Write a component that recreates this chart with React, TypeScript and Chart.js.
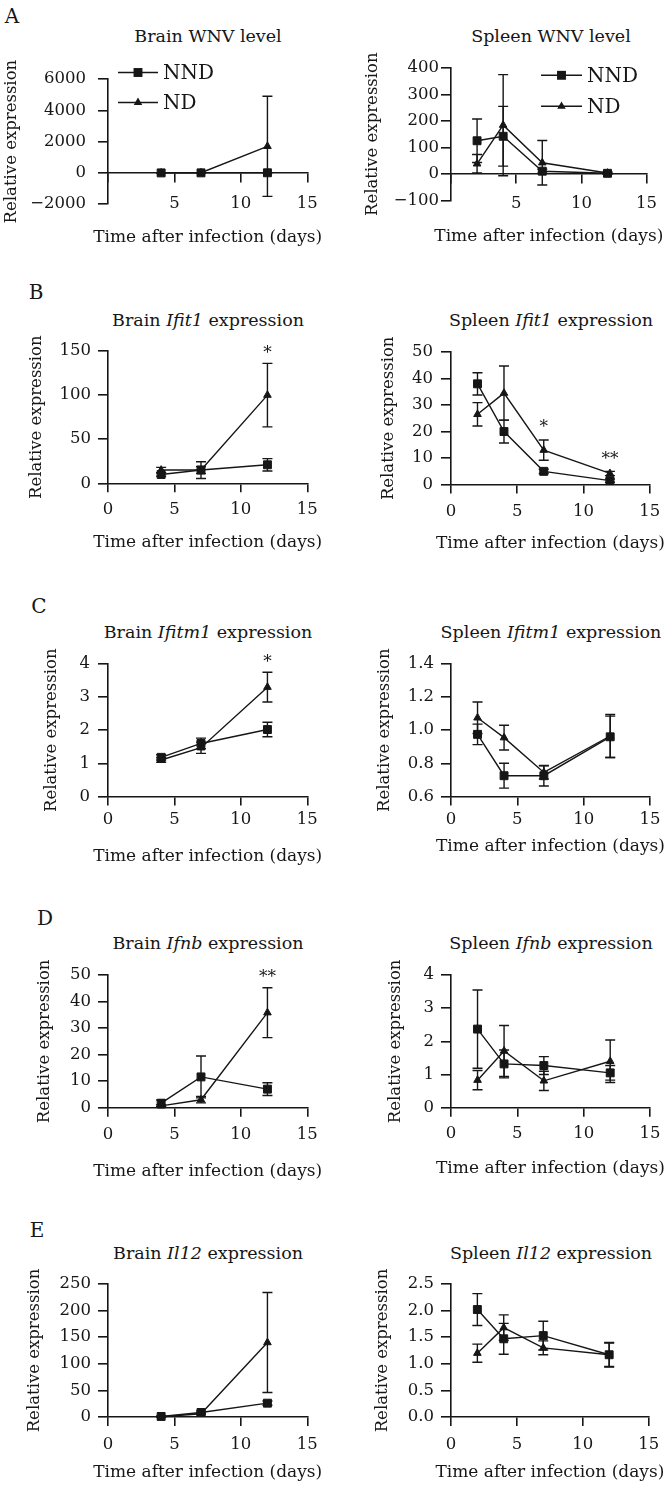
import React, { useEffect, useRef } from 'react';
import { Chart, registerables } from 'chart.js';

Chart.register(...registerables);

const FONT = "'DejaVu Serif', 'Liberation Serif', serif";
const INK = '#161616';

// ---------- categories / labels ----------
const brainDays = [4, 7, 12];
const spleenDays = [2, 4, 7, 12];
const xTickValues = [0, 5, 10, 15];
const seriesNames = ['NND', 'ND'];
const xAxisTitle = 'Time after infection (days)';
const yAxisTitle = 'Relative expression';

// ---------- A: WNV level ----------
const brainWnvNND = [0, 3, 8];
const brainWnvNNDErr = [5, 5, 10];
const brainWnvND = [0, 10, 1700];
const brainWnvNDErr = [5, 10, 3200];
const brainWnvYTicks = [-2000, 0, 2000, 4000, 6000];

const spleenWnvNND = [125, 142, 10, 2];
const spleenWnvNNDErr = [82, 113, 8, 3];
const spleenWnvND = [38, 184, 42, 3];
const spleenWnvNDErr = [35, 191, 84, 4];
const spleenWnvYTicks = [-100, 0, 100, 200, 300, 400];

// ---------- B: Ifit1 ----------
const brainIfit1NND = [10, 15, 21];
const brainIfit1NNDErr = [2, 9.5, 7];
const brainIfit1ND = [15, 15, 100];
const brainIfit1NDErr = [3, 4, 36];
const brainIfit1YTicks = [0, 50, 100, 150];
const brainIfit1Stars = [{ x: 12, y: 153.4, text: '*' }];

const spleenIfit1NND = [38, 20, 5, 1.5];
const spleenIfit1NNDErr = [4.2, 4.3, 0.8, 0.6];
const spleenIfit1ND = [26.5, 34.5, 13, 4.2];
const spleenIfit1NDErr = [4.4, 10.2, 3.8, 0.8];
const spleenIfit1YTicks = [0, 10, 20, 30, 40, 50];
const spleenIfit1Stars = [
  { x: 7, y: 23.6, text: '*' },
  { x: 12, y: 11.8, text: '**' },
];

// ---------- C: Ifitm1 ----------
const brainIfitm1NND = [1.18, 1.6, 2.02];
const brainIfitm1NNDErr = [0.08, 0.16, 0.22];
const brainIfitm1ND = [1.1, 1.47, 3.3];
const brainIfitm1NDErr = [0.07, 0.17, 0.45];
const brainIfitm1YTicks = [0, 1, 2, 3, 4];
const brainIfitm1Stars = [{ x: 12, y: 4.22, text: '*' }];

const spleenIfitm1NND = [0.975, 0.725, 0.725, 0.96];
const spleenIfitm1NNDErr = [0.062, 0.075, 0.062, 0.125];
const spleenIfitm1ND = [1.075, 0.955, 0.745, 0.965];
const spleenIfitm1NDErr = [0.095, 0.075, 0.04, 0.13];
const spleenIfitm1YTicks = [0.6, 0.8, 1.0, 1.2, 1.4];

// ---------- D: Ifnb ----------
const brainIfnbNND = [1.7, 11.6, 7.0];
const brainIfnbNNDErr = [1.2, 7.9, 2.4];
const brainIfnbND = [0.7, 3.0, 35.8];
const brainIfnbNDErr = [0.4, 1.2, 9.4];
const brainIfnbYTicks = [0, 10, 20, 30, 40, 50];
const brainIfnbStars = [{ x: 12, y: 51.2, text: '**' }];

const spleenIfnbNND = [2.37, 1.32, 1.27, 1.05];
const spleenIfnbNNDErr = [1.18, 0.42, 0.27, 0.22];
const spleenIfnbND = [0.83, 1.71, 0.81, 1.4];
const spleenIfnbNDErr = [0.29, 0.77, 0.29, 0.64];
const spleenIfnbYTicks = [0, 1, 2, 3, 4];

// ---------- E: Il12 ----------
const brainIl12NND = [1, 8.5, 26];
const brainIl12NNDErr = [1, 3, 4];
const brainIl12ND = [0.5, 6, 140];
const brainIl12NDErr = [0.5, 2, 94];
const brainIl12YTicks = [0, 50, 100, 150, 200, 250];

const spleenIl12NND = [2.02, 1.47, 1.53, 1.17];
const spleenIl12NNDErr = [0.3, 0.29, 0.27, 0.23];
const spleenIl12ND = [1.2, 1.68, 1.3, 1.17];
const spleenIl12NDErr = [0.17, 0.24, 0.13, 0.22];
const spleenIl12YTicks = [0, 0.5, 1.0, 1.5, 2.0, 2.5];

// ---------- titles ----------
const panelLetters = [
  { text: 'A', x: 12, y: 15.5 },
  { text: 'B', x: 36, y: 292 },
  { text: 'C', x: 39, y: 606 },
  { text: 'D', x: 45, y: 917.5 },
  { text: 'E', x: 37, y: 1230 },
];

type Star = { x: number; y: number; text: string };
type Geom = {
  top: number; bottom: number; xTitleY: number; yTitleX: number;
  tickPadY: number; tickPadX: number; titleX: number; titleY: number;
};
type Panel = {
  id: string; col: 0 | 1; days: number[];
  nnd: number[]; nndErr: number[]; nd: number[]; ndErr: number[];
  yTicks: number[]; decimals: number; title: [string, string, string];
  stars: Star[]; zeroAxis?: boolean;
  legend?: { dx: number; dy: number[]; len: number };
  geom: Geom;
};

const panels: Panel[] = [
  {
    id: 'A1', col: 0, days: brainDays, nnd: brainWnvNND, nndErr: brainWnvNNDErr, nd: brainWnvND, ndErr: brainWnvNDErr,
    yTicks: brainWnvYTicks, decimals: 0, title: ['Brain WNV level', '', ''], stars: [], zeroAxis: true,
    legend: { dx: 10, dy: [-6.5, 23.5], len: 40 },
    geom: { top: 78.5, bottom: 203.7, xTitleY: 237, yTitleX: 12, tickPadY: 12, tickPadX: 11.7, titleX: 208, titleY: 37 },
  },
  {
    id: 'A2', col: 1, days: spleenDays, nnd: spleenWnvNND, nndErr: spleenWnvNNDErr, nd: spleenWnvND, ndErr: spleenWnvNDErr,
    yTicks: spleenWnvYTicks, decimals: 0, title: ['Spleen WNV level', '', ''], stars: [], zeroAxis: true,
    legend: { dx: 90, dy: [7.3, 38.3], len: 41 },
    geom: { top: 67.7, bottom: 200, xTitleY: 236.7, yTitleX: 373, tickPadY: 2, tickPadX: 10.9, titleX: 551, titleY: 37 },
  },
  {
    id: 'B1', col: 0, days: brainDays, nnd: brainIfit1NND, nndErr: brainIfit1NNDErr, nd: brainIfit1ND, ndErr: brainIfit1NDErr,
    yTicks: brainIfit1YTicks, decimals: 0, title: ['Brain ', 'Ifit1', ' expression'], stars: brainIfit1Stars,
    geom: { top: 351, bottom: 483.3, xTitleY: 543, yTitleX: 37, tickPadY: 7, tickPadX: 7.8, titleX: 208, titleY: 321 },
  },
  {
    id: 'B2', col: 1, days: spleenDays, nnd: spleenIfit1NND, nndErr: spleenIfit1NNDErr, nd: spleenIfit1ND, ndErr: spleenIfit1NDErr,
    yTicks: spleenIfit1YTicks, decimals: 0, title: ['Spleen ', 'Ifit1', ' expression'], stars: spleenIfit1Stars,
    geom: { top: 351.7, bottom: 484.3, xTitleY: 543.3, yTitleX: 389, tickPadY: 8, tickPadX: 7.8, titleX: 551, titleY: 321 },
  },
  {
    id: 'C1', col: 0, days: brainDays, nnd: brainIfitm1NND, nndErr: brainIfitm1NNDErr, nd: brainIfitm1ND, ndErr: brainIfitm1NDErr,
    yTicks: brainIfitm1YTicks, decimals: 0, title: ['Brain ', 'Ifitm1', ' expression'], stars: brainIfitm1Stars,
    geom: { top: 664.3, bottom: 796.7, xTitleY: 856.7, yTitleX: 52, tickPadY: 8, tickPadX: 4.4, titleX: 208, titleY: 633 },
  },
  {
    id: 'C2', col: 1, days: spleenDays, nnd: spleenIfitm1NND, nndErr: spleenIfitm1NNDErr, nd: spleenIfitm1ND, ndErr: spleenIfitm1NDErr,
    yTicks: spleenIfitm1YTicks, decimals: 1, title: ['Spleen ', 'Ifitm1', ' expression'], stars: [],
    geom: { top: 664.3, bottom: 796.7, xTitleY: 846.7, yTitleX: 385, tickPadY: 7, tickPadX: 4.4, titleX: 551, titleY: 633 },
  },
  {
    id: 'D1', col: 0, days: brainDays, nnd: brainIfnbNND, nndErr: brainIfnbNNDErr, nd: brainIfnbND, ndErr: brainIfnbNDErr,
    yTicks: brainIfnbYTicks, decimals: 0, title: ['Brain ', 'Ifnb', ' expression'], stars: brainIfnbStars,
    geom: { top: 975, bottom: 1107.7, xTitleY: 1171.7, yTitleX: 45, tickPadY: 7, tickPadX: 8.4, titleX: 208, titleY: 944 },
  },
  {
    id: 'D2', col: 1, days: spleenDays, nnd: spleenIfnbNND, nndErr: spleenIfnbNNDErr, nd: spleenIfnbND, ndErr: spleenIfnbNDErr,
    yTicks: spleenIfnbYTicks, decimals: 0, title: ['Spleen ', 'Ifnb', ' expression'], stars: [],
    geom: { top: 975, bottom: 1107.7, xTitleY: 1168.3, yTitleX: 396, tickPadY: 7, tickPadX: 6.7, titleX: 551, titleY: 944 },
  },
  {
    id: 'E1', col: 0, days: brainDays, nnd: brainIl12NND, nndErr: brainIl12NNDErr, nd: brainIl12ND, ndErr: brainIl12NDErr,
    yTicks: brainIl12YTicks, decimals: 0, title: ['Brain ', 'Il12', ' expression'], stars: [],
    geom: { top: 1284.3, bottom: 1417.3, xTitleY: 1473.3, yTitleX: 35, tickPadY: 7, tickPadX: 8.8, titleX: 208, titleY: 1254 },
  },
  {
    id: 'E2', col: 1, days: spleenDays, nnd: spleenIl12NND, nndErr: spleenIl12NNDErr, nd: spleenIl12ND, ndErr: spleenIl12NDErr,
    yTicks: spleenIl12YTicks, decimals: 1, title: ['Spleen ', 'Il12', ' expression'], stars: [],
    geom: { top: 1284.3, bottom: 1417.3, xTitleY: 1473.3, yTitleX: 383, tickPadY: 7, tickPadX: 8.8, titleX: 551, titleY: 1254 },
  },
];

// ---------- layout constants ----------
const COLS = [
  { left: 0, axisX: 108, rightX: 307.3 },
  { left: 334, axisX: 451, rightX: 650 },
];
const CW = 334;
const CH = 290;
const TOP_PAD = 60;
const TICK_SIZE = 16.5;
const X_TITLE_SIZE = 17;
const Y_TITLE_SIZE = 16.5;
const TITLE_SIZE = 17.5;
const TICK_LEN = 9;
const AXIS_W = 1.6;
const LINE_W = 1.4;
const CAP = 5;
const SQUARE_R = 5.6;
const TRI_R = 4.4;

function fmt(v: number, decimals: number) {
  const s = Math.abs(v).toFixed(decimals);
  return v < 0 ? '\u2212' + s : s;
}

function drawMarker(ctx: CanvasRenderingContext2D, style: string, x: number, y: number) {
  ctx.beginPath();
  if (style === 'rect') {
    const h = SQUARE_R * Math.SQRT1_2 + 0.5;
    ctx.rect(x - h, y - h, 2 * h, 2 * h);
  } else {
    const r = TRI_R + 0.5;
    ctx.moveTo(x, y - r);
    ctx.lineTo(x + r * Math.sin((2 * Math.PI) / 3), y - r * Math.cos((2 * Math.PI) / 3));
    ctx.lineTo(x + r * Math.sin((4 * Math.PI) / 3), y - r * Math.cos((4 * Math.PI) / 3));
    ctx.closePath();
  }
  ctx.fill();
}

function makePlugins(p: Panel) {
  const errs = [p.nndErr, p.ndErr];
  const col = COLS[p.col];
  const canvasTop = p.geom.top - TOP_PAD;
  const errorBars = {
    id: 'errorBars',
    beforeDatasetsDraw(chart: any) {
      const ctx = chart.ctx as CanvasRenderingContext2D;
      const ys = chart.scales.y;
      ctx.save();
      ctx.strokeStyle = INK;
      ctx.lineWidth = LINE_W;
      chart.data.datasets.forEach((ds: any, di: number) => {
        const meta = chart.getDatasetMeta(di);
        meta.data.forEach((pt: any, i: number) => {
          const e = errs[di][i];
          if (!e) return;
          const v = ds.data[i].y;
          const hi = ys.getPixelForValue(v + e);
          const lo = ys.getPixelForValue(v - e);
          ctx.beginPath();
          ctx.moveTo(pt.x, hi);
          ctx.lineTo(pt.x, lo);
          ctx.moveTo(pt.x - CAP, hi);
          ctx.lineTo(pt.x + CAP, hi);
          ctx.moveTo(pt.x - CAP, lo);
          ctx.lineTo(pt.x + CAP, lo);
          ctx.stroke();
        });
      });
      ctx.restore();
    },
  };
  const stars = {
    id: 'stars',
    afterDatasetsDraw(chart: any) {
      const ctx = chart.ctx as CanvasRenderingContext2D;
      const size = 17;
      ctx.save();
      ctx.fillStyle = INK;
      ctx.font = `${size}px ${FONT}`;
      ctx.textAlign = 'center';
      ctx.textBaseline = 'alphabetic';
      p.stars.forEach((s) => {
        const x = chart.scales.x.getPixelForValue(s.x);
        const y = chart.scales.y.getPixelForValue(s.y);
        ctx.fillText(s.text, x, y + size * 0.6);
      });
      ctx.restore();
    },
  };
  const axisTitles = {
    id: 'axisTitles',
    afterDraw(chart: any) {
      const ctx = chart.ctx as CanvasRenderingContext2D;
      const area = chart.chartArea;
      ctx.save();
      ctx.fillStyle = INK;
      ctx.textAlign = 'center';
      ctx.textBaseline = 'middle';
      ctx.font = `${X_TITLE_SIZE}px ${FONT}`;
      ctx.fillText(xAxisTitle, (area.left + area.right) / 2, p.geom.xTitleY - canvasTop);
      ctx.translate(p.geom.yTitleX - col.left, (area.top + area.bottom) / 2);
      ctx.rotate(-Math.PI / 2);
      ctx.font = `${Y_TITLE_SIZE}px ${FONT}`;
      ctx.fillText(yAxisTitle, 0, 0);
      ctx.restore();
    },
  };
  const lineLegend = {
    id: 'lineLegend',
    afterDraw(chart: any) {
      if (!p.legend) return;
      const lg = p.legend;
      const ctx = chart.ctx as CanvasRenderingContext2D;
      const area = chart.chartArea;
      const styles = ['rect', 'triangle'];
      ctx.save();
      ctx.strokeStyle = INK;
      ctx.fillStyle = INK;
      ctx.lineWidth = LINE_W;
      ctx.font = `20px ${FONT}`;
      ctx.textBaseline = 'middle';
      ctx.textAlign = 'left';
      seriesNames.forEach((name, i) => {
        const x0 = area.left + lg.dx;
        const x1 = x0 + lg.len;
        const y = area.top + lg.dy[i];
        ctx.beginPath();
        ctx.moveTo(x0, y);
        ctx.lineTo(x1, y);
        ctx.stroke();
        drawMarker(ctx, styles[i], (x0 + x1) / 2, y);
        ctx.fillText(name, x1 + 5, y + 1);
      });
      ctx.restore();
    },
  };
  return [errorBars, stars, axisTitles, lineLegend];
}

function buildConfig(p: Panel): any {
  const col = COLS[p.col];
  const g = p.geom;
  const yMin = p.yTicks[0];
  const yMax = p.yTicks[p.yTicks.length - 1];
  const padLeft = 2;
  const yWidth = col.axisX - col.left - padLeft;
  const padRight = col.left + CW - col.rightX;
  const xH = Math.max(20, g.xTitleY + 12 - g.bottom);
  // an axis placed at a data value does not take layout space
  const padBottom = p.zeroAxis
    ? CH - TOP_PAD - (g.bottom - g.top)
    : CH - TOP_PAD - (g.bottom - g.top) - xH;

  const mk = (vals: number[], label: string, style: string, radius: number) => ({
    label,
    data: p.days.map((d, i) => ({ x: d, y: vals[i] })),
    borderColor: INK,
    backgroundColor: INK,
    borderWidth: LINE_W,
    pointStyle: style,
    pointRadius: radius,
    pointBackgroundColor: INK,
    pointBorderColor: INK,
    pointBorderWidth: 1,
    tension: 0,
    fill: false,
    clip: false,
  });

  return {
    type: 'line',
    data: {
      datasets: [
        mk(p.nnd, seriesNames[0], 'rect', SQUARE_R),
        mk(p.nd, seriesNames[1], 'triangle', TRI_R),
      ],
    },
    options: {
      responsive: false,
      maintainAspectRatio: false,
      animation: false,
      devicePixelRatio: 1,
      events: [],
      layout: { padding: { left: padLeft, right: padRight, top: TOP_PAD, bottom: padBottom } },
      scales: {
        x: {
          type: 'linear',
          min: 0,
          max: 15,
          position: p.zeroAxis ? { y: 0 } : 'bottom',
          afterBuildTicks: (s: any) => {
            s.ticks = xTickValues.map((v) => ({ value: v }));
          },
          afterFit: (s: any) => {
            s.height = xH;
          },
          ticks: {
            autoSkip: false,
            maxRotation: 0,
            minRotation: 0,
            padding: g.tickPadX,
            color: INK,
            font: { family: FONT, size: TICK_SIZE },
            callback: (v: number) => (p.zeroAxis && v === 0 ? '' : String(v)),
          },
          grid: {
            display: true,
            drawOnChartArea: false,
            drawTicks: true,
            tickLength: TICK_LEN,
            color: INK,
            lineWidth: AXIS_W,
          },
          border: { display: true, color: INK, width: AXIS_W },
          title: { display: false },
        },
        y: {
          type: 'linear',
          min: yMin,
          max: yMax,
          position: 'left',
          afterBuildTicks: (s: any) => {
            s.ticks = p.yTicks.map((v) => ({ value: v }));
          },
          afterFit: (s: any) => {
            s.width = yWidth;
          },
          ticks: {
            autoSkip: false,
            padding: g.tickPadY,
            color: INK,
            font: { family: FONT, size: TICK_SIZE },
            callback: (v: number) => fmt(v, p.decimals),
          },
          grid: {
            display: true,
            drawOnChartArea: false,
            drawTicks: true,
            tickLength: TICK_LEN + 1,
            color: INK,
            lineWidth: AXIS_W,
          },
          border: { display: true, color: INK, width: AXIS_W },
          title: { display: false },
        },
      },
      plugins: {
        legend: { display: false },
        tooltip: { enabled: false },
        title: { display: false },
      },
    },
    plugins: makePlugins(p),
  };
}

function PanelChart({ p }: { p: Panel }) {
  const ref = useRef<HTMLCanvasElement>(null);
  useEffect(() => {
    const chart = new Chart(ref.current as HTMLCanvasElement, buildConfig(p));
    return () => chart.destroy();
  }, [p]);
  const col = COLS[p.col];
  return (
    <canvas
      ref={ref}
      width={CW}
      height={CH}
      style={{
        position: 'absolute',
        left: col.left,
        top: p.geom.top - TOP_PAD,
        width: CW,
        height: CH,
      }}
    />
  );
}

function PanelTitle({ p }: { p: Panel }) {
  const [a, b, c] = p.title;
  return (
    <div
      style={{
        position: 'absolute',
        left: p.geom.titleX,
        top: p.geom.titleY,
        transform: 'translate(-50%, -50%)',
        whiteSpace: 'nowrap',
        fontFamily: FONT,
        fontSize: TITLE_SIZE,
        lineHeight: 1,
        color: INK,
      }}
    >
      {a}
      {b ? <i>{b}</i> : null}
      {c}
    </div>
  );
}

export default function App() {
  Chart.defaults.font.family = FONT;
  Chart.defaults.color = INK;
  return (
    <div
      style={{
        position: 'absolute',
        left: 0,
        top: 0,
        width: 668,
        height: 1488,
        overflow: 'hidden',
        background: '#ffffff',
      }}
    >
      {panelLetters.map((l) => (
        <div
          key={l.text}
          style={{
            position: 'absolute',
            left: l.x,
            top: l.y,
            transform: 'translate(-50%, -50%)',
            fontFamily: FONT,
            fontSize: 20,
            lineHeight: 1,
            color: INK,
          }}
        >
          {l.text}
        </div>
      ))}
      {panels.map((p) => (
        <React.Fragment key={p.id}>
          <PanelTitle p={p} />
          <PanelChart p={p} />
        </React.Fragment>
      ))}
    </div>
  );
}
